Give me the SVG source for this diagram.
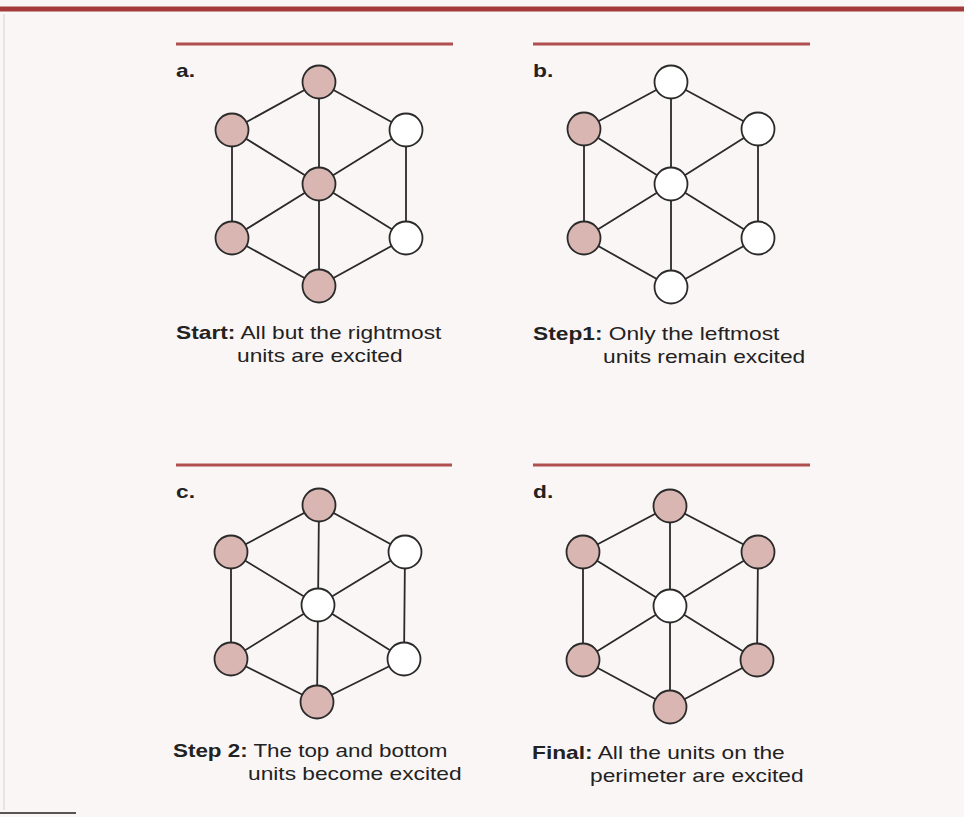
<svg xmlns="http://www.w3.org/2000/svg" width="964" height="817" viewBox="0 0 964 817">
<style>
.bg{fill:#fbf6f6}
.bar{stroke:#a43a3a;stroke-width:5}
.rule{stroke:#b04f4f;stroke-width:3}
.edge{stroke:#2a2a2a;stroke-width:1.8;fill:none}
circle{stroke:#2a2a2a;stroke-width:1.8}
.on{fill:#d9b6b1}
.off{fill:#ffffff}
text{font-family:"Liberation Sans",Arial,sans-serif;font-size:17.5px;fill:#222}
.lbl{font-weight:bold}
.b{font-weight:bold}
</style>
<rect class="bg" x="0" y="0" width="964" height="817"/>
<line class="bar" x1="0" y1="9" x2="964" y2="9"/>
<line x1="4" y1="14" x2="4" y2="810" stroke="#d8d0d0" stroke-width="1"/>
<line x1="0" y1="813" x2="76" y2="813" stroke="#555" stroke-width="2"/>

<!-- Panel a -->
<g id="panel-a">
<line class="rule" x1="176" y1="44" x2="453" y2="44"/>
<text class="lbl" transform="translate(176,77) scale(1.3,1)">a.</text>
<g id="a-edges">
<path class="edge" d="M319,82L232,130M319,82L406,130M319,82L319,184M232,130L319,184M406,130L319,184M232,130L232,238M406,130L406,238M232,238L319,184M406,238L319,184M319,184L319,286M232,238L319,286M406,238L319,286"/>
</g>
<g id="a-top"><circle class="on" cx="319" cy="82" r="16.5"/></g>
<g id="a-ul"><circle class="on" cx="232" cy="130" r="16.5"/></g>
<g id="a-ur"><circle class="off" cx="406" cy="130" r="16.5"/></g>
<g id="a-c"><circle class="on" cx="319" cy="184" r="16.5"/></g>
<g id="a-ll"><circle class="on" cx="232" cy="238" r="16.5"/></g>
<g id="a-lr"><circle class="off" cx="406" cy="238" r="16.5"/></g>
<g id="a-bot"><circle class="on" cx="319" cy="286" r="16.5"/></g>
<text transform="translate(176,339) scale(1.3,1)"><tspan class="b">Start:</tspan> All but the rightmost</text>
<text transform="translate(237,362) scale(1.3,1)">units are excited</text>
</g>

<!-- Panel b -->
<g id="panel-b">
<line class="rule" x1="533" y1="44" x2="810" y2="44"/>
<text class="lbl" transform="translate(533,77) scale(1.3,1)">b.</text>
<g id="b-edges">
<path class="edge" d="M671,82L584,129M671,82L758,129M671,82L671,184M584,129L671,184M758,129L671,184M584,129L584,238M758,129L758,238M584,238L671,184M758,238L671,184M671,184L671,287M584,238L671,287M758,238L671,287"/>
</g>
<g id="b-top"><circle class="off" cx="671" cy="82" r="16.5"/></g>
<g id="b-ul"><circle class="on" cx="584" cy="129" r="16.5"/></g>
<g id="b-ur"><circle class="off" cx="758" cy="129" r="16.5"/></g>
<g id="b-c"><circle class="off" cx="671" cy="184" r="16.5"/></g>
<g id="b-ll"><circle class="on" cx="584" cy="238" r="16.5"/></g>
<g id="b-lr"><circle class="off" cx="758" cy="238" r="16.5"/></g>
<g id="b-bot"><circle class="off" cx="671" cy="287" r="16.5"/></g>
<text transform="translate(533,340) scale(1.3,1)"><tspan class="b">Step1:</tspan> Only the leftmost</text>
<text transform="translate(603,363) scale(1.3,1)">units remain excited</text>
</g>

<!-- Panel c -->
<g id="panel-c">
<line class="rule" x1="176" y1="465" x2="452" y2="465"/>
<text class="lbl" transform="translate(176,498) scale(1.3,1)">c.</text>
<g id="c-edges">
<path class="edge" d="M319,505L231,552M319,505L405,552M319,505L318,605M231,552L318,605M405,552L318,605M231,552L231,659M405,552L404,659M231,659L318,605M404,659L318,605M318,605L317,702M231,659L317,702M404,659L317,702"/>
</g>
<g id="c-top"><circle class="on" cx="319" cy="505" r="16.5"/></g>
<g id="c-ul"><circle class="on" cx="231" cy="552" r="16.5"/></g>
<g id="c-ur"><circle class="off" cx="405" cy="552" r="16.5"/></g>
<g id="c-c"><circle class="off" cx="318" cy="605" r="16.5"/></g>
<g id="c-ll"><circle class="on" cx="231" cy="659" r="16.5"/></g>
<g id="c-lr"><circle class="off" cx="404" cy="659" r="16.5"/></g>
<g id="c-bot"><circle class="on" cx="317" cy="702" r="16.5"/></g>
<text transform="translate(173,757) scale(1.28,1)"><tspan class="b">Step 2:</tspan> The top and bottom</text>
<text transform="translate(248,780) scale(1.3,1)">units become excited</text>
</g>

<!-- Panel d -->
<g id="panel-d">
<line class="rule" x1="533" y1="465" x2="810" y2="465"/>
<text class="lbl" transform="translate(533,498) scale(1.3,1)">d.</text>
<g id="d-edges">
<path class="edge" d="M670,506L583,552M670,506L758,552M670,506L670,606M583,552L670,606M758,552L670,606M583,552L583,660M758,552L757,660M583,660L670,606M757,660L670,606M670,606L670,707M583,660L670,707M757,660L670,707"/>
</g>
<g id="d-top"><circle class="on" cx="670" cy="506" r="16.5"/></g>
<g id="d-ul"><circle class="on" cx="583" cy="552" r="16.5"/></g>
<g id="d-ur"><circle class="on" cx="758" cy="552" r="16.5"/></g>
<g id="d-c"><circle class="off" cx="670" cy="606" r="16.5"/></g>
<g id="d-ll"><circle class="on" cx="583" cy="660" r="16.5"/></g>
<g id="d-lr"><circle class="on" cx="757" cy="660" r="16.5"/></g>
<g id="d-bot"><circle class="on" cx="670" cy="707" r="16.5"/></g>
<text transform="translate(532,759) scale(1.3,1)"><tspan class="b">Final:</tspan> All the units on the</text>
<text transform="translate(590,782) scale(1.3,1)">perimeter are excited</text>
</g>
</svg>
